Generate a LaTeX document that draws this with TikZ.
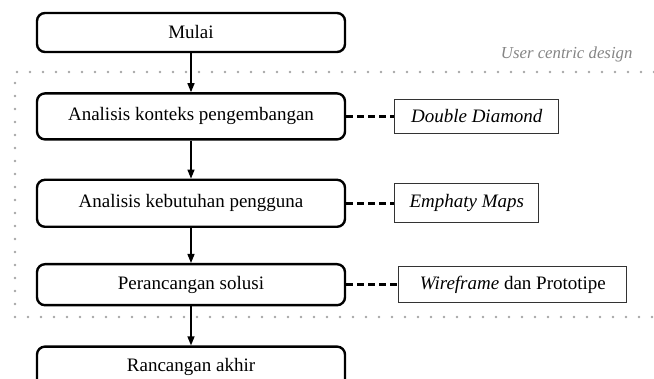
\documentclass[tikz,border=0pt]{standalone}
\usepackage{fontspec}
\setmainfont{Liberation Serif}
\usepackage{xcolor}
\usetikzlibrary{arrows.meta,positioning}

\definecolor{framegray}{HTML}{A6A6A6}
\definecolor{labelgray}{HTML}{858585}

\begin{document}
\begin{tikzpicture}[x=1pt, y=-1pt, node distance=38pt,
    stage/.style={draw, rectangle, rounded corners=8pt, line width=2.4pt, minimum width=308pt, align=center, font=\fontsize{19}{22}\selectfont},
    method/.style={draw=black!80, rectangle, line width=1.2pt, align=center, font=\fontsize{19}{22}\selectfont},
    flow/.style={-{Triangle[width=7pt,length=9pt]}, line width=1.4pt},
    link/.style={dashed, dash pattern=on 7pt off 4pt, line width=2.8pt}]
    \useasboundingbox (0,0) rectangle (654,379);

    % Nodes
    \node[stage, minimum height=39pt] (mulai) at (191,32.5) {Mulai};
    \node[stage, minimum height=46pt, below=39pt of mulai] (konteks) {Analisis konteks pengembangan};
    \node[stage, minimum height=47pt, below=38pt of konteks] (kebutuhan) {Analisis kebutuhan pengguna};
    \node[stage, minimum height=41pt, below=35pt of kebutuhan] (solusi) {Perancangan solusi};
    \node[stage, minimum height=41pt, below=39pt of solusi] (akhir) {Rancangan akhir};

    \node[method, minimum width=164pt, minimum height=34pt, right=48pt of konteks] (dd) {\textit{Double Diamond}};
    \node[method, minimum width=144pt, minimum height=39pt, right=48pt of kebutuhan] (em) {\textit{Emphaty Maps}};
    \node[method, minimum width=228pt, minimum height=36pt, right=52pt of solusi] (wf) {\textit{Wireframe} dan Prototipe};

    % Frame
    \draw[framegray, line width=2.8pt, line cap=round, dash pattern=on 0pt off 13pt]
        (654,72) -- (15,72) -- (15,317) -- (654,317);
    \node[text=labelgray, font=\fontsize{16.8}{19}\selectfont\itshape, anchor=east] (ucd) at (636,54) {User centric design};

    % Arrows
    \draw[flow] (mulai) -- (konteks);
    \draw[flow] (konteks) -- (kebutuhan);
    \draw[flow] (kebutuhan) -- (solusi);
    \draw[flow] (solusi) -- (akhir);

    \draw[link] (konteks) -- (dd);
    \draw[link] (kebutuhan) -- (em);
    \draw[link] (solusi) -- (wf);
\end{tikzpicture}
\end{document}
